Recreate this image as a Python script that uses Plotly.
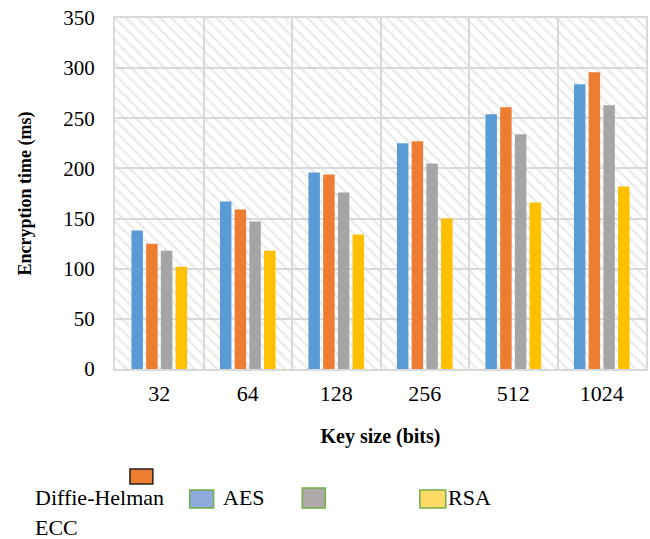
import plotly.graph_objects as go

categories = ["32", "64", "128", "256", "512", "1024"]
series_names = ["AES", "Diffie-Helman", "ECC", "RSA"]
aes = [138, 167, 196, 225, 254, 284]
diffie = [125, 159, 194, 227, 261, 296]
ecc = [118, 147, 176, 205, 234, 263]
rsa = [102, 118, 134, 150, 166, 182]
series_values = [aes, diffie, ecc, rsa]
colors = ["#5B9BD5", "#ED7D31", "#A5A5A5", "#FFC000"]
y_max = 350

SERIF = "Liberation Serif"
W, H = 650, 539
L, R, T, B = 115, 2, 18, 170

fig = go.Figure()

# hatched background on the main (hidden) subplot
fig.add_trace(go.Bar(
    x=[0.5], y=[y_max], width=[1], xaxis="x", yaxis="y",
    marker=dict(color="rgba(0,0,0,0)", line=dict(width=0),
                pattern=dict(shape="\\", fgcolor="#d4d4d4", bgcolor="rgba(0,0,0,0)",
                             size=8, solidity=0.28, fillmode="overlay")),
    hoverinfo="skip", showlegend=False,
))

for name, vals, col in zip(series_names, series_values, colors):
    fig.add_trace(go.Bar(
        x=categories, y=vals, name=name, xaxis="x2", yaxis="y2",
        marker=dict(color=col, line=dict(width=0)), showlegend=False,
    ))

fig.update_layout(
    width=W, height=H,
    margin=dict(l=L, r=R, t=T, b=B),
    paper_bgcolor="white", plot_bgcolor="white",
    barmode="group", bargap=0.335, bargroupgap=0.22,
    font=dict(family=SERIF, color="black"),
    xaxis=dict(type="linear", range=[0, 1], visible=False, fixedrange=True),
    yaxis=dict(range=[0, y_max], dtick=50, showgrid=True, gridcolor="#d9d9d9", gridwidth=2,
               showline=True, linecolor="#d9d9d9", linewidth=2, mirror=True,
               zeroline=False, ticks="", ticklabelstandoff=14,
               tickfont=dict(family=SERIF, size=21, color="black"),
               title=dict(text="<b>Encryption time (ms)</b>", standoff=27,
                          font=dict(family=SERIF, size=18, color="black"))),
    xaxis2=dict(type="category", overlaying="x", side="bottom", tickson="boundaries",
                showgrid=True, gridcolor="#d9d9d9", gridwidth=2,
                showline=True, linecolor="#d9d9d9", linewidth=2, mirror=True,
                ticks="", ticklabelstandoff=4,
                tickfont=dict(family=SERIF, size=22, color="black"),
                title=dict(text="<b>Key size (bits)</b>", standoff=24,
                           font=dict(family=SERIF, size=20, color="black"))),
    yaxis2=dict(overlaying="y", range=[0, y_max], visible=False, showgrid=False),
)

pw, ph = W - L - R, H - T - B
def px(x):
    return (x - L) / pw
def py(y):
    return (H - B - y) / ph

# custom legend (mimicking the reference layout)
boxes = [  # (series index, x0, y0, x1, y1, border color)
    (1, 130, 469, 153, 484, "#222222"),
    (0, 190, 490, 214, 508, "#70AD47"),
    (2, 303, 488, 326, 508, "#70AD47"),
    (3, 421, 490, 447, 508, "#70AD47"),
]
legend_fill = {0: "#8FAADC", 1: "#ED7D31", 2: "#AEAAAA", 3: "#FFD966"}
for idx, x0, y0, x1, y1, bc in boxes:
    fig.add_shape(type="rect", xref="paper", yref="paper",
                  x0=px(x0), x1=px(x1), y0=py(y1), y1=py(y0),
                  fillcolor=legend_fill[idx], line=dict(color=bc, width=1.5))

labels = [  # (series index, x, y)
    (1, 33, 497),
    (0, 221, 497),
    (3, 447, 497),
    (2, 33, 527),
]
for idx, x, y in labels:
    fig.add_annotation(text=series_names[idx], xref="paper", yref="paper",
                       x=px(x), y=py(y), xanchor="left", yanchor="middle",
                       showarrow=False, font=dict(family=SERIF, size=22, color="black"))

fig.write_html("out.html", config={"displayModeBar": False},
               post_script="document.body.style.margin='0';document.body.style.overflow='hidden';")
